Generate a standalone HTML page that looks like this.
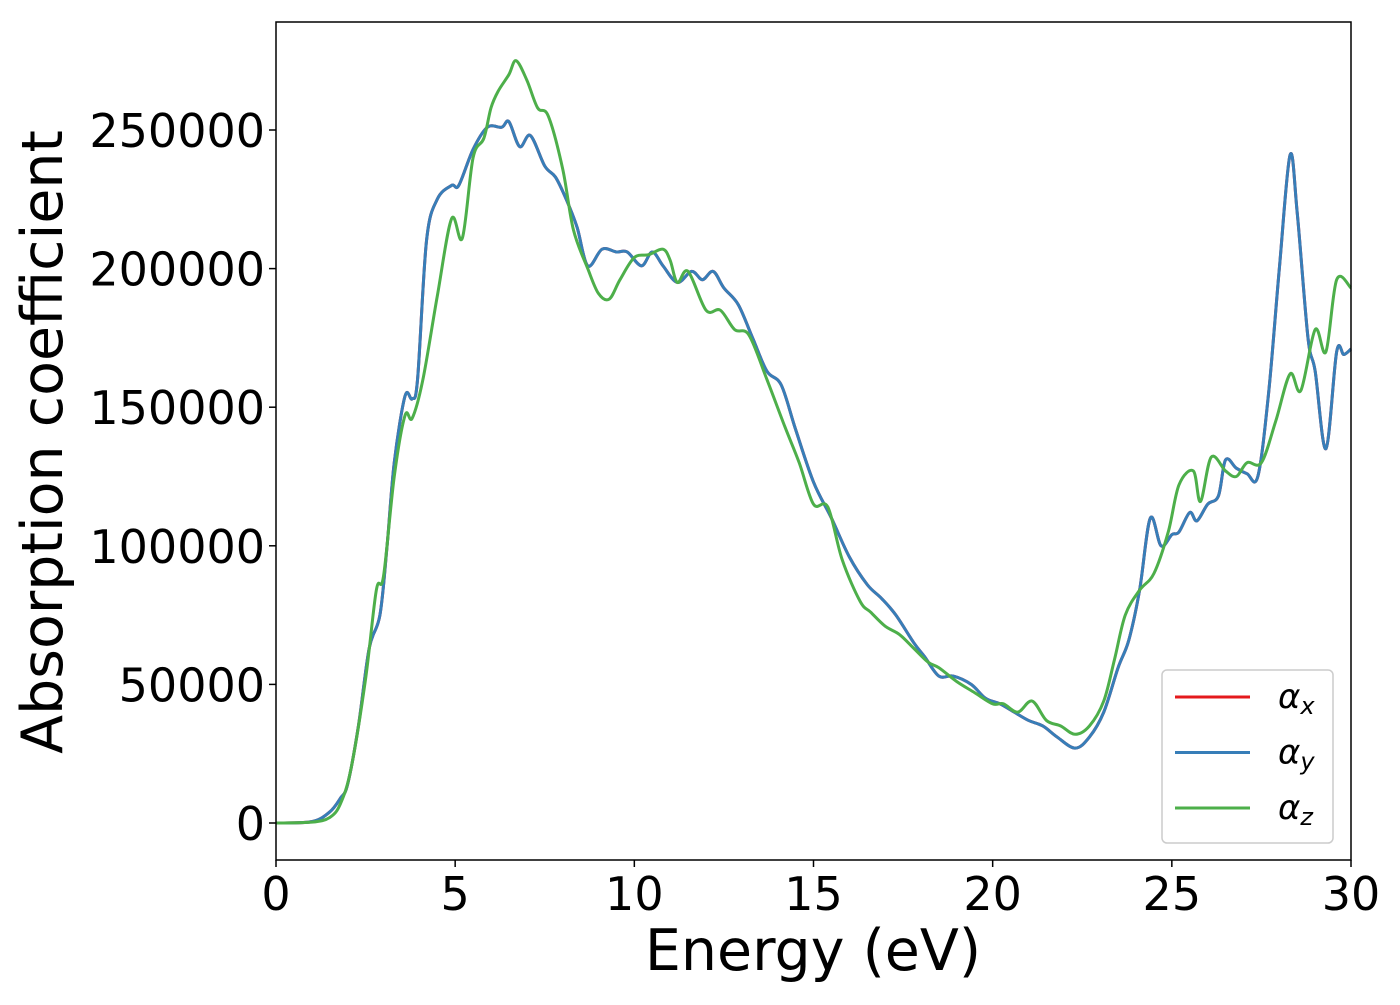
<!DOCTYPE html>
<html><head><meta charset="utf-8"><style>
body{margin:0;background:#fff}
text{font-family:"DejaVu Sans","Liberation Sans",sans-serif;fill:#000}
</style></head><body>
<svg id="chart" width="1400" height="1000" xmlns="http://www.w3.org/2000/svg">
<rect x="0" y="0" width="1400" height="1000" fill="#fff"/>
<g id="plot"></g>
</svg>
<script>
const xTicks=[0,5,10,15,20,25,30];
const yTicks=[0,50000,100000,150000,200000,250000];
const seriesNames=["αx","αy","αz"];
const energyXY=[0,1,1.5,1.8,2.0,2.3,2.6,2.9,3.1,3.3,3.6,3.8,3.95,4.2,4.5,4.9,5.1,5.5,5.9,6.3,6.5,6.8,7.1,7.5,7.8,8.1,8.4,8.7,9.1,9.5,9.8,10.2,10.5,10.8,11.2,11.6,11.9,12.2,12.5,12.9,13.3,13.7,14.1,14.5,15,15.5,16,16.5,16.9,17.3,17.8,18.1,18.5,18.9,19.4,19.8,20.2,20.6,21,21.4,21.8,22.3,22.7,23.1,23.5,23.8,24.1,24.4,24.7,25.0,25.2,25.5,25.7,26,26.3,26.5,26.8,27.1,27.4,27.7,28.0,28.3,28.5,28.8,29.0,29.3,29.6,29.8,30];
const alphaXY=[0,500,4000,9000,14000,35000,63000,75000,100000,130000,154000,153000,160000,210000,225000,230000,230000,243000,251000,251000,253000,244000,248000,237000,233000,225000,215000,201000,207000,206000,206000,201000,206000,201000,195000,199000,196000,199000,193000,187000,175000,163000,158000,142000,123000,110000,96000,86000,81000,75000,65000,60000,53000,53000,50000,45000,43000,40000,37000,35000,31000,27000,31000,40000,56000,66000,84000,110000,100000,104000,105000,112000,109000,115000,118000,131000,128000,126000,125000,155000,200000,241000,220000,175000,163000,135000,170000,169000,171000];
const energyZ=[0,1,1.5,1.8,2.1,2.5,2.8,3.0,3.3,3.6,3.8,4.1,4.5,4.9,5.2,5.5,5.8,6.0,6.2,6.5,6.7,7.0,7.3,7.6,8.0,8.3,8.7,9.0,9.3,9.6,10,10.4,10.8,11.0,11.2,11.5,12,12.4,12.8,13.2,13.7,14.2,14.6,15,15.4,15.8,16.3,16.6,17,17.4,17.8,18.2,18.5,19,19.5,20,20.3,20.7,21.1,21.5,21.9,22.3,22.7,23.1,23.4,23.7,24.1,24.5,24.9,25.2,25.6,25.8,26.1,26.5,26.8,27.1,27.5,27.9,28.3,28.6,29.0,29.3,29.6,30];
const alphaZ=[0,300,2000,7000,20000,52000,84000,89000,125000,147000,146000,160000,190000,218000,211000,240000,247000,258000,264000,270000,275000,268000,258000,255000,236000,214000,200000,191000,189000,196000,204000,205000,207000,203000,195000,199000,185000,185000,178000,176000,160000,143000,130000,115000,114000,95000,80000,76000,71000,68000,63000,58000,56000,51000,47000,43000,43000,40000,44000,37000,35000,32000,35000,44000,59000,75000,84000,90000,105000,122000,127000,116000,132000,127000,125000,130000,130000,145000,162000,156000,178000,170000,196000,193000];

const X0=276,X1=1351,Y0=823,Ytop=22,Ybot=860;
const sx=v=>X0+(v/30)*(X1-X0);
const sy=v=>Y0-v/50000*138.6;
const NS="http://www.w3.org/2000/svg";
const g=document.getElementById('plot');
function mk(t,a){const e=document.createElementNS(NS,t);for(const k in a)e.setAttribute(k,a[k]);return e;}
function path(xs,ys){
  const p=xs.map((x,i)=>[sx(x),sy(ys[i])]);
  let d=`M${p[0][0]},${p[0][1]}`;
  for(let i=0;i<p.length-1;i++){
    const a=p[Math.max(0,i-1)],b=p[i],c=p[i+1],e=p[Math.min(p.length-1,i+2)];
    const c1=[b[0]+(c[0]-a[0])/6,b[1]+(c[1]-a[1])/6],c2=[c[0]-(e[0]-b[0])/6,c[1]-(e[1]-b[1])/6];
    d+=`C${c1[0]},${c1[1]} ${c2[0]},${c2[1]} ${c[0]},${c[1]}`;
  }
  return d;
}
const lx=mk('path',{d:path(energyXY,alphaXY),fill:'none',stroke:'#e41a1c','stroke-width':3});


g.appendChild(lx);
const ly=mk('path',{d:path(energyXY,alphaXY),fill:'none',stroke:'#377eb8','stroke-width':3});


g.appendChild(ly);
const lz=mk('path',{d:path(energyZ,alphaZ),fill:'none',stroke:'#4daf4a','stroke-width':3});


g.appendChild(lz);
const frame=mk('rect',{x:X0,y:Ytop,width:X1-X0,height:Ybot-Ytop,fill:'none',stroke:'#000','stroke-width':1.5});


g.appendChild(frame);
xTicks.forEach(v=>{
  const t=mk('line',{x1:sx(v),x2:sx(v),y1:Ybot,y2:Ybot+7,stroke:'#000','stroke-width':1.5});
  
  
  g.appendChild(t);
  const l=mk('text',{x:sx(v),y:910,'text-anchor':'middle','font-size':46});
  
  
  l.textContent=v;g.appendChild(l);
});
yTicks.forEach(v=>{
  const t=mk('line',{x1:X0-7,x2:X0,y1:sy(v),y2:sy(v),stroke:'#000','stroke-width':1.5});
  
  
  g.appendChild(t);
  const l=mk('text',{x:265,y:sy(v)+17,'text-anchor':'end','font-size':46});
  
  
  l.textContent=v;g.appendChild(l);
});
const xt=mk('text',{x:813,y:970,'text-anchor':'middle','font-size':57});


xt.textContent='Energy (eV)';g.appendChild(xt);
const yt=mk('text',{x:0,y:0,'text-anchor':'middle','font-size':57,transform:'translate(62,442) rotate(-90)'});


yt.textContent='Absorption coefficient';g.appendChild(yt);
const lg=mk('rect',{x:1162,y:670,width:171,height:173,rx:5,fill:'#fff',stroke:'#ccc','stroke-width':1.5});


g.appendChild(lg);
const cols=['#e41a1c','#377eb8','#4daf4a'],subs=['x','y','z'];
seriesNames.forEach((n,i)=>{
  const y=697+i*55.5;
  const ln=mk('line',{x1:1175,x2:1250,y1:y,y2:y,stroke:cols[i],'stroke-width':3});
  
  
  g.appendChild(ln);
  const t=mk('text',{x:1278,y:y+11,'font-size':34,'font-style':'italic'});
  
  
  t.textContent='α';
  const s=mk('tspan',{'font-size':24,dy:6});
  s.textContent=subs[i];t.appendChild(s);
  g.appendChild(t);
});
</script>
</body></html>
